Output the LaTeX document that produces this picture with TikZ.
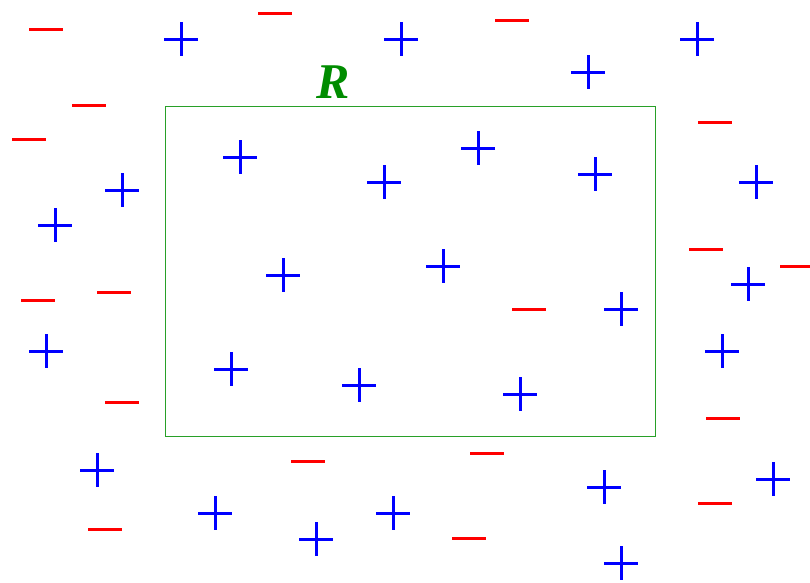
\documentclass[tikz,border=0pt]{standalone}
\usepackage{fontspec}
\newfontfamily\rfont{Liberation Serif}
\begin{document}
\begin{tikzpicture}[x=1pt,y=-1pt,
  plussign/.style={draw=blue,line width=3pt},
  minussign/.style={draw=red,line width=3pt},
  regionbox/.style={draw={rgb,255:red,40;green,160;blue,40},line width=0.9pt}]
\useasboundingbox (0,0) rectangle (810,582);
\node[regionbox,minimum width=490pt,minimum height=330pt,inner sep=0pt,anchor=north west] (R) at (165,106) {};
\node[text={rgb,255:red,0;green,140;blue,0},font=\rfont\fontsize{50}{50}\selectfont\bfseries\itshape,inner sep=0pt] (Rlabel) at (333,82) {R};
\foreach \x/\y in {181/39,401/39,697/39,588/72,240/157,478/148,384/182,595/174,122/190,756/182,55/225,283/275,443/266,748/284,621/309,46/351,722/351,231/369,359/385,520/394,97/470,773/479,604/487,215/513,393/513,316/539,621/563}
  \draw[plussign] (\x-17,\y) -- (\x+17,\y) (\x,\y-17) -- (\x,\y+17);
\foreach \x/\y in {46/29,275/13,512/20,89/105,29/139,715/122,706/249,797/266,38/300,114/292,529/309,122/402,723/418,308/461,487/453,105/529,715/503,469/538}
  \draw[minussign] (\x-17,\y) -- (\x+17,\y);
\end{tikzpicture}
\end{document}
